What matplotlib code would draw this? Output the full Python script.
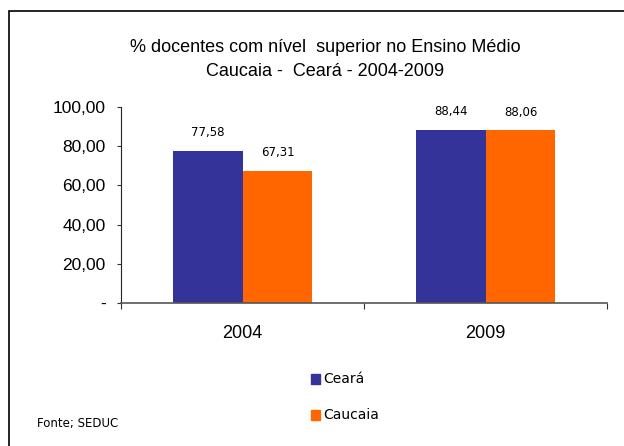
import matplotlib.pyplot as plt
from matplotlib.patches import Rectangle

# Dados
anos = ["2004", "2009"]
ceara = [77.58, 88.44]
caucaia = [67.31, 88.06]
series = ["Ceará", "Caucaia"]
cores = ["#333399", "#FF6600"]
yticks = [0, 20, 40, 60, 80, 100]
ytick_labels = ["-", "20,00", "40,00", "60,00", "80,00", "100,00"]

fig = plt.figure(figsize=(6.24, 4.46), dpi=100)

# Moldura
fig.patches.append(Rectangle((9 / 624, -0.5), 2, 1.5 - 11 / 446, transform=fig.transFigure,
                             fill=False, edgecolor="black", linewidth=1.2))

ax = fig.add_axes([121 / 624, 1 - 303 / 446, 486 / 624, 196 / 446])

largura = 0.288
x = range(len(anos))
b1 = ax.bar([i - largura / 2 for i in x], ceara, largura, color=cores[0], label=series[0])
b2 = ax.bar([i + largura / 2 for i in x], caucaia, largura, color=cores[1], label=series[1])

for barras in (b1, b2):
    for b in barras:
        ax.annotate(f"{b.get_height():.2f}".replace(".", ","),
                    (b.get_x() + b.get_width() / 2, b.get_height()),
                    xytext=(0, 8.5), textcoords="offset points",
                    ha="center", va="bottom", fontsize=8.5, family="DejaVu Sans")

ax.set_xlim(-0.5, 1.5)
ax.set_ylim(0, 100)
ax.set_yticks(yticks)
ax.set_yticklabels(ytick_labels, family="Liberation Sans", fontsize=12.5)
ax.tick_params(axis="y", direction="out", length=3, pad=8, color="#333333")

ax.set_xticks([-0.5, 0.5, 1.5])
ax.set_xticklabels([])
ax.tick_params(axis="x", which="major", direction="out", length=4, color="#333333")
ax.set_xticks([0, 1], minor=True)
ax.set_xticklabels(anos, minor=True, family="Liberation Sans", fontsize=13)
ax.tick_params(axis="x", which="minor", length=0, pad=16)

for s in ["top", "right"]:
    ax.spines[s].set_visible(False)
ax.spines["left"].set_color("#222222")
ax.spines["bottom"].set_color("#555555")
ax.spines["bottom"].set_linewidth(1.2)

fig.text(325 / 624, 1 - 47 / 446, "% docentes com nível  superior no Ensino Médio",
         ha="center", va="center", fontsize=13, family="Liberation Sans")
fig.text(325 / 624, 1 - 72 / 446, "Caucaia -  Ceará - 2004-2009",
         ha="center", va="center", fontsize=13, family="Liberation Sans")

# Legenda
for i, nome in enumerate(series):
    y = 1 - (379 + 36 * i) / 446
    fig.patches.append(Rectangle((311 / 624, y - 5 / 446), 9 / 624, 10 / 446,
                                 transform=fig.transFigure, color=cores[i]))
    fig.text(323 / 624, y, nome, ha="left", va="center", fontsize=10, family="DejaVu Sans")

fig.text(37 / 624, 1 - 423 / 446, "Fonte; SEDUC", ha="left", va="center",
         fontsize=8.5, family="DejaVu Sans")

fig.savefig("out.png", dpi=100)
